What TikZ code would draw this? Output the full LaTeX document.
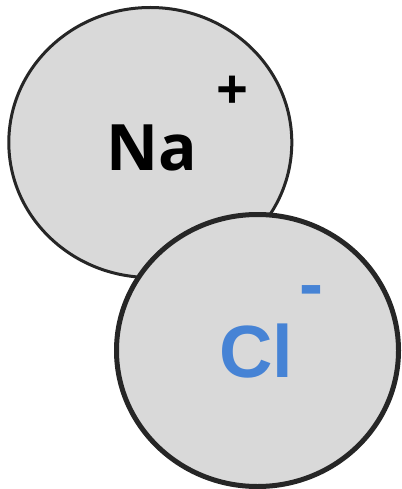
\documentclass[tikz,border=0pt]{standalone}
\usepackage{fontspec}
\usepackage{tikz}
\usetikzlibrary{shapes.geometric}
\newfontfamily\nafont{Open Sans}
\newfontfamily\clfont{Liberation Sans}
\definecolor{ionfill}{HTML}{D9D9D9}
\definecolor{ionline}{HTML}{262626}
\definecolor{clblue}{HTML}{4683D5}

\begin{document}
\begin{tikzpicture}[x=1pt, y=-1pt,
    ion/.style={ellipse, draw=ionline, fill=ionfill, inner sep=0pt},
    sym/.style={inner sep=0pt, anchor=base}]
    \useasboundingbox (0,0) rectangle (401,489);
    % sodium
    \node[ion, line width=3pt, minimum width=283pt, minimum height=270pt] (na) at (150.3,142.5) {};
    % chlorine, drawn on top
    \node[ion, line width=5pt, minimum width=282pt, minimum height=272pt] (cl) at (257.5,350.5) {};
    \node[sym, font=\nafont\bfseries\fontsize{64}{64}\selectfont] (natext) at (151.5,170) {Na};
    \node[sym, font=\nafont\bfseries\fontsize{56}{56}\selectfont] (naplus) at (232.3,110) {+};
    \node[sym, text=clblue, font=\clfont\bfseries\fontsize{74}{74}\selectfont] (cltext) at (256.5,377) {Cl};
    \node[sym, text=clblue, font=\clfont\bfseries\fontsize{72}{72}\selectfont] (clminus) at (311,308.5) {-};
\end{tikzpicture}
\end{document}
